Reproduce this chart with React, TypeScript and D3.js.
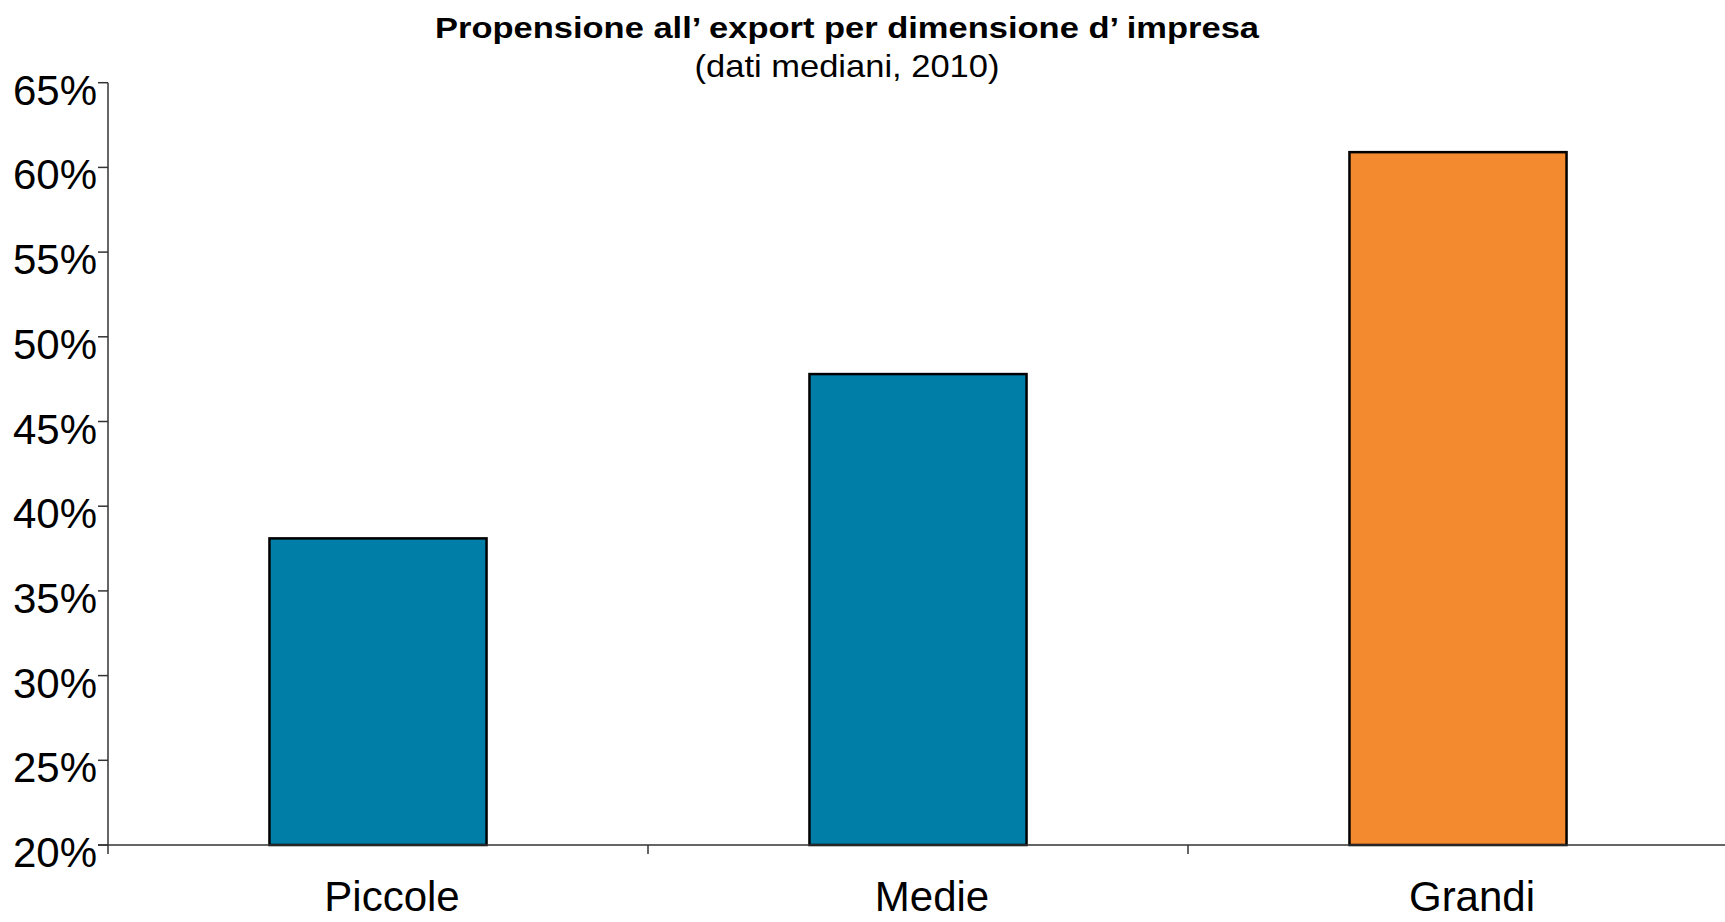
import React from "react";
import * as d3 from "d3";

// Export share by firm size (median values, 2010)
const categories: string[] = ["Piccole", "Medie", "Grandi"];
const exportShare: number[] = [38.1, 47.8, 60.9];
const barColors: string[] = ["#007EA7", "#007EA7", "#F48A30"];
const yTicks: number[] = [20, 25, 30, 35, 40, 45, 50, 55, 60, 65];

const title = "Propensione all\u2019 export per dimensione d\u2019 impresa";
const subtitle = "(dati mediani, 2010)";

const W = 1725;
const H = 922;
const FONT = "'Liberation Sans', Arial, Helvetica, sans-serif";

export default function App() {
  const left = 108;
  const right = 1728;
  const top = 82.7;
  const bottom = 845;

  const x = d3.scaleBand<string>().domain(categories).range([left, right]).padding(0);
  const y = d3.scaleLinear().domain([20, 65]).range([bottom, top]);
  const barW = x.bandwidth() * 0.402;

  return (
    <svg
      width={W}
      height={H}
      style={{ position: "absolute", left: 0, top: 0, display: "block", background: "#fff" }}
      fontFamily={FONT}
    >
      <text
        x={847}
        y={37.5}
        textAnchor="middle"
        fontWeight="bold"
        fontSize={30}
        textLength={824}
        lengthAdjust="spacingAndGlyphs"
        fill="#000"
      >
        {title}
      </text>
      <text
        x={847}
        y={77}
        textAnchor="middle"
        fontSize={32}
        textLength={305}
        lengthAdjust="spacingAndGlyphs"
        fill="#000"
      >
        {subtitle}
      </text>

      {/* bars */}
      {categories.map((c, i) => {
        const cx = (x(c) as number) + x.bandwidth() / 2;
        return (
          <rect
            key={c}
            x={cx - barW / 2}
            y={y(exportShare[i])}
            width={barW}
            height={y(20) - y(exportShare[i])}
            fill={barColors[i]}
            stroke="#000"
            strokeWidth={2.5}
          />
        );
      })}

      {/* y axis */}
      <line x1={left} x2={left} y1={top} y2={bottom + 9} stroke="#333" strokeWidth={1.5} />
      {yTicks.map((t) => (
        <g key={t}>
          <line x1={left - 10} x2={left} y1={y(t)} y2={y(t)} stroke="#333" strokeWidth={1.5} />
          <text x={97} y={y(t) + 22} textAnchor="end" fontSize={42} fill="#000">
            {`${t}%`}
          </text>
        </g>
      ))}

      {/* x axis */}
      <line x1={left - 10} x2={W} y1={bottom} y2={bottom} stroke="#333" strokeWidth={1.5} />
      {categories.slice(1).map((c) => (
        <line
          key={c}
          x1={x(c) as number}
          x2={x(c) as number}
          y1={bottom}
          y2={bottom + 9}
          stroke="#333"
          strokeWidth={1.5}
        />
      ))}
      {categories.map((c) => (
        <text
          key={c}
          x={(x(c) as number) + x.bandwidth() / 2 + 14}
          y={911}
          textAnchor="middle"
          fontSize={42}
          fill="#000"
        >
          {c}
        </text>
      ))}
    </svg>
  );
}
